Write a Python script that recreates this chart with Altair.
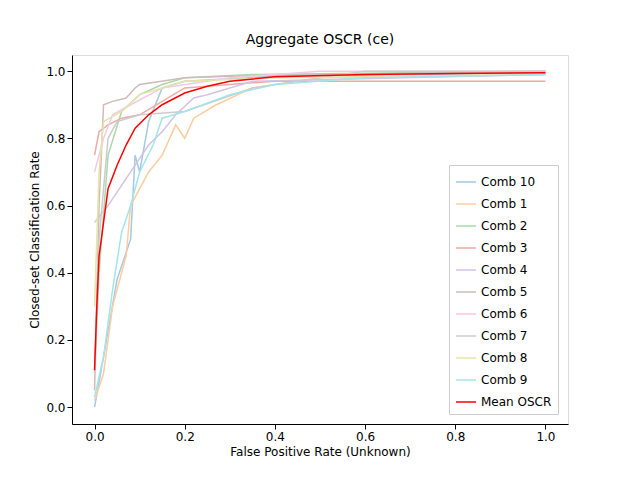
import altair as alt
import pandas as pd

# (fpr, ccr) pairs, per run
comb_10 = [(0, 0), (0.02, 0.15), (0.05, 0.38), (0.08, 0.5), (0.09, 0.75), (0.1, 0.7), (0.12, 0.85), (0.15, 0.95), (0.2, 0.97), (0.4, 0.985), (1, 0.995)]
comb_1 = [(0, 0.02), (0.02, 0.1), (0.04, 0.3), (0.07, 0.45), (0.08, 0.6), (0.12, 0.7), (0.15, 0.75), (0.18, 0.84), (0.2, 0.8), (0.22, 0.86), (0.27, 0.9), (0.35, 0.95), (0.5, 0.98), (1, 0.99)]
comb_2 = [(0, 0.1), (0.01, 0.4), (0.03, 0.75), (0.06, 0.88), (0.1, 0.93), (0.15, 0.96), (0.2, 0.98), (0.35, 0.99), (1, 1)]
comb_3 = [(0, 0.75), (0.01, 0.82), (0.03, 0.84), (0.06, 0.86), (0.1, 0.87), (0.2, 0.95), (0.4, 0.97), (1, 0.97)]
comb_4 = [(0, 0.55), (0.03, 0.6), (0.08, 0.7), (0.12, 0.78), (0.15, 0.82), (0.18, 0.87), (0.22, 0.92), (0.25, 0.93), (0.35, 0.97), (1, 0.99)]
comb_5 = [(0, 0.05), (0.01, 0.6), (0.02, 0.9), (0.04, 0.91), (0.07, 0.92), (0.09, 0.95), (0.1, 0.96), (0.2, 0.98), (0.3, 0.985), (1, 1)]
comb_6 = [(0, 0.7), (0.02, 0.8), (0.04, 0.87), (0.08, 0.9), (0.15, 0.95), (0.3, 0.98), (0.5, 1), (1, 1)]
comb_7 = [(0, 0.1), (0.01, 0.5), (0.03, 0.8), (0.05, 0.85), (0.1, 0.87), (0.2, 0.88), (0.35, 0.95), (0.6, 1), (1, 1)]
comb_8 = [(0, 0.3), (0.01, 0.7), (0.02, 0.85), (0.06, 0.88), (0.1, 0.93), (0.2, 0.97), (0.4, 0.98), (1, 0.99)]
comb_9 = [(0, 0.03), (0.02, 0.15), (0.04, 0.35), (0.06, 0.52), (0.08, 0.6), (0.1, 0.7), (0.13, 0.78), (0.15, 0.86), (0.2, 0.88), (0.3, 0.93), (0.4, 0.96), (0.6, 0.98), (1, 0.99)]
mean_oscr = [(0, 0.11), (0.005, 0.3), (0.01, 0.45), (0.02, 0.55), (0.03, 0.65), (0.05, 0.72), (0.07, 0.78), (0.09, 0.83), (0.12, 0.87), (0.15, 0.9), (0.2, 0.935), (0.25, 0.955), (0.3, 0.97), (0.4, 0.983), (0.6, 0.99), (0.8, 0.993), (1, 0.995)]

series = {
    "Comb 10": comb_10, "Comb 1": comb_1, "Comb 2": comb_2, "Comb 3": comb_3,
    "Comb 4": comb_4, "Comb 5": comb_5, "Comb 6": comb_6, "Comb 7": comb_7,
    "Comb 8": comb_8, "Comb 9": comb_9, "Mean OSCR": mean_oscr,
}
names = list(series)
colors = ["#a5c9e1", "#ffcc9f", "#abd9ab", "#efa9a9", "#d4c2e5", "#d1bbb7",
          "#f4c9e7", "#cccccc", "#e4e5a7", "#a2e5ec", "#ff0000"]
widths = [1.5] * 10 + [2.2]

rows = []
for name, pts in series.items():
    for i, (x, y) in enumerate(pts):
        rows.append({"run": name, "fpr": x, "ccr": y, "i": i})
df = pd.DataFrame(rows)

axis = dict(grid=False, format=".1f", labelFontSize=12, titleFontSize=12,
            labelColor="black", titleColor="black", domainColor="black",
            tickColor="black", titleFontWeight="normal")

chart = alt.Chart(df).mark_line().encode(
    x=alt.X("fpr:Q", title="False Positive Rate (Unknown)",
            scale=alt.Scale(domain=[-0.05, 1.05], nice=False, zero=False),
            axis=alt.Axis(values=[0, 0.2, 0.4, 0.6, 0.8, 1.0], **axis)),
    y=alt.Y("ccr:Q", title="Closed-set Classification Rate",
            scale=alt.Scale(domain=[-0.05, 1.048], nice=False, zero=False),
            axis=alt.Axis(values=[0, 0.2, 0.4, 0.6, 0.8, 1.0], **axis)),
    color=alt.Color("run:N", scale=alt.Scale(domain=names, range=colors), sort=names,
                    legend=alt.Legend(title=None, orient="bottom-right", symbolType="stroke",
                                      symbolStrokeWidth=2, labelFontSize=12, strokeColor="#cccccc",
                                      padding=6, fillColor="white", rowPadding=5, symbolSize=400,
                                      offset=10)),
    strokeWidth=alt.StrokeWidth("run:N", scale=alt.Scale(domain=names, range=widths), legend=None),
    order="i:Q",
).properties(
    width=496, height=369,
    padding={"left": 20, "top": 25, "right": 10, "bottom": 10},
    title=alt.Title("Aggregate OSCR (ce)", fontSize=14, fontWeight="normal", offset=8),
).configure_view(stroke="black").configure(font="DejaVu Sans")

chart.save("out.html", embed_options={"renderer": "svg", "actions": False})
